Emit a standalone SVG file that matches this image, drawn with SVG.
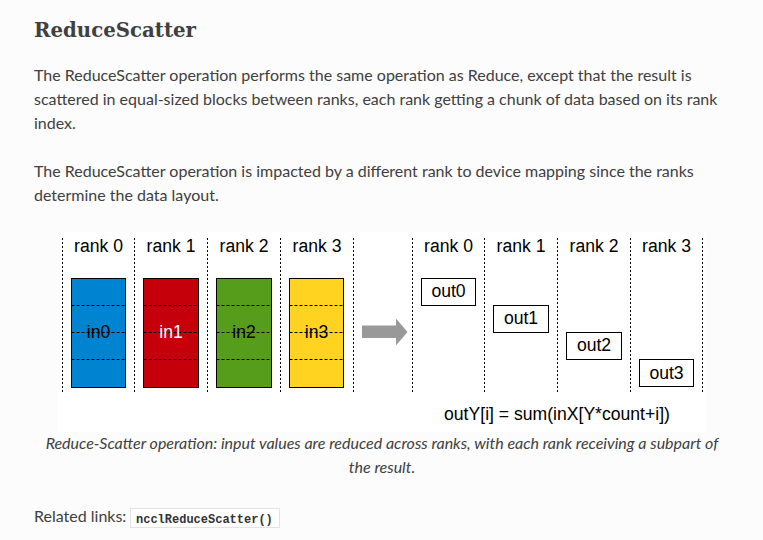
<svg xmlns="http://www.w3.org/2000/svg" width="763" height="540" viewBox="0 0 763 540">
<style>
.body{font-family:Lato,"Open Sans","Liberation Sans",sans-serif;font-size:16px;fill:#404040}
.cap{font-family:Lato,"Open Sans","Liberation Sans",sans-serif;font-size:16px;font-style:italic;fill:#404040}
.lbl{font-family:"Liberation Sans",Arial,sans-serif;font-size:17.6px;fill:#000;text-anchor:middle}
.div{stroke:#000;stroke-width:1;stroke-dasharray:2,2;fill:none}
.blk{stroke:#000;stroke-width:1}
.seg{stroke:#000;stroke-width:1;stroke-dasharray:3,2}
.out{fill:#fff;stroke:#000;stroke-width:1}
</style>
<rect x="0" y="0" width="763" height="540" fill="#fcfcfc"/>
<text x="34" y="37" font-family="'DejaVu Serif','Liberation Serif',serif" font-weight="bold" font-size="21" fill="#404040" textLength="162" lengthAdjust="spacingAndGlyphs">ReduceScatter</text>
<text class="body" x="34" y="81">The ReduceScatter operation performs the same operation as Reduce, except that the result is</text>
<text class="body" x="34" y="105">scattered in equal-sized blocks between ranks, each rank getting a chunk of data based on its rank</text>
<text class="body" x="34" y="129">index.</text>
<text class="body" x="34" y="177">The ReduceScatter operation is impacted by a different rank to device mapping since the ranks</text>
<text class="body" x="34" y="201">determine the data layout.</text>

<rect x="57" y="232" width="649" height="200" fill="#ffffff"/>

<g id="dividers">
<line class="div" x1="62.5" y1="238" x2="62.5" y2="394"/>
<line class="div" x1="134.5" y1="238" x2="134.5" y2="394"/>
<line class="div" x1="207.5" y1="238" x2="207.5" y2="394"/>
<line class="div" x1="280.5" y1="238" x2="280.5" y2="394"/>
<line class="div" x1="353.5" y1="238" x2="353.5" y2="394"/>
<line class="div" x1="412.5" y1="238" x2="412.5" y2="394"/>
<line class="div" x1="484.5" y1="238" x2="484.5" y2="394"/>
<line class="div" x1="557.5" y1="238" x2="557.5" y2="394"/>
<line class="div" x1="630.5" y1="238" x2="630.5" y2="394"/>
<line class="div" x1="702.5" y1="238" x2="702.5" y2="394"/>
</g>

<g id="rank-labels">
<text class="lbl" x="98.5" y="252">rank 0</text>
<text class="lbl" x="171" y="252">rank 1</text>
<text class="lbl" x="244" y="252">rank 2</text>
<text class="lbl" x="317" y="252">rank 3</text>
<text class="lbl" x="448.5" y="252">rank 0</text>
<text class="lbl" x="521" y="252">rank 1</text>
<text class="lbl" x="594" y="252">rank 2</text>
<text class="lbl" x="666.5" y="252">rank 3</text>
</g>

<g id="in0">
<rect class="blk" x="71.5" y="278.5" width="54" height="109" fill="#0084d1"/>
<line class="seg" x1="71.5" y1="305.5" x2="125.5" y2="305.5"/>
<line class="seg" x1="71.5" y1="332.5" x2="125.5" y2="332.5"/>
<line class="seg" x1="71.5" y1="359.5" x2="125.5" y2="359.5"/>
<text class="lbl" x="98.5" y="338">in0</text>
</g>
<g id="in1">
<rect class="blk" x="143.5" y="278.5" width="55" height="109" fill="#c5000b"/>
<line class="seg" x1="143.5" y1="305.5" x2="198.5" y2="305.5"/>
<line class="seg" x1="143.5" y1="332.5" x2="198.5" y2="332.5"/>
<line class="seg" x1="143.5" y1="359.5" x2="198.5" y2="359.5"/>
<text class="lbl" x="171" y="338" fill="#ffffff" style="fill:#ffffff">in1</text>
</g>
<g id="in2">
<rect class="blk" x="216.5" y="278.5" width="55" height="109" fill="#579d1c"/>
<line class="seg" x1="216.5" y1="305.5" x2="271.5" y2="305.5"/>
<line class="seg" x1="216.5" y1="332.5" x2="271.5" y2="332.5"/>
<line class="seg" x1="216.5" y1="359.5" x2="271.5" y2="359.5"/>
<text class="lbl" x="244" y="338">in2</text>
</g>
<g id="in3">
<rect class="blk" x="289.5" y="278.5" width="54" height="109" fill="#ffd320"/>
<line class="seg" x1="289.5" y1="305.5" x2="343.5" y2="305.5"/>
<line class="seg" x1="289.5" y1="332.5" x2="343.5" y2="332.5"/>
<line class="seg" x1="289.5" y1="359.5" x2="343.5" y2="359.5"/>
<text class="lbl" x="316.5" y="338">in3</text>
</g>

<g id="connectors">
<polygon points="362,325.5 396,325.5 396,318.5 407.5,332 396,345.5 396,338 362,338" fill="#999999"/>
</g>

<g id="out0">
<rect class="out" x="421.5" y="278.5" width="54" height="27"/>
<text class="lbl" x="448.5" y="297">out0</text>
</g>
<g id="out1">
<rect class="out" x="493.5" y="305.5" width="55" height="27"/>
<text class="lbl" x="521" y="324">out1</text>
</g>
<g id="out2">
<rect class="out" x="566.5" y="332.5" width="55" height="27"/>
<text class="lbl" x="594" y="351">out2</text>
</g>
<g id="out3">
<rect class="out" x="639.5" y="359.5" width="54" height="27"/>
<text class="lbl" x="666.5" y="378.5">out3</text>
</g>

<text class="lbl" x="557" y="420">outY[i] = sum(inX[Y*count+i])</text>

<text class="cap" x="382" y="449" text-anchor="middle">Reduce-Scatter operation: input values are reduced across ranks, with each rank receiving a subpart of</text>
<text class="cap" x="382" y="473" text-anchor="middle">the result.</text>

<text class="body" x="34" y="522">Related links:</text>
<rect x="130.5" y="508.5" width="149" height="19" fill="#ffffff" stroke="#e1e4e5"/>
<text x="136" y="522.5" font-family="'Liberation Mono','DejaVu Sans Mono',monospace" font-weight="bold" font-size="12" fill="#333">ncclReduceScatter()</text>
</svg>
